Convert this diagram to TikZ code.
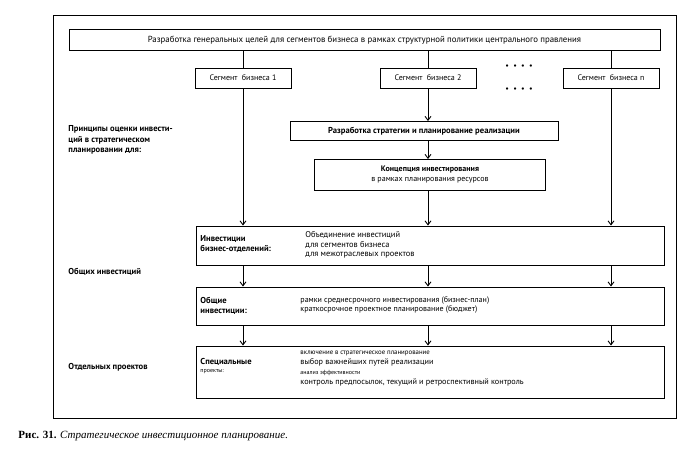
\documentclass[tikz,border=0pt]{standalone}
\usepackage{fontspec}
\setmainfont{PT Sans}
\newfontfamily\capfont{Liberation Serif}
\usetikzlibrary{arrows.meta, positioning}

\begin{document}
\begin{tikzpicture}[x=1pt,y=-1pt,>={Straight Barb[length=4pt,width=6pt]},line width=0.9pt]
    \tikzstyle{box}=[draw, rectangle, inner sep=2pt, font=\fontsize{8}{9}\selectfont]
    \tikzstyle{seg box}=[box, minimum width=96pt, minimum height=20pt]
    \tikzstyle{wide box}=[box, minimum width=468pt]
    \tikzstyle{note}=[align=left, anchor=west, inner sep=0pt, font=\fontsize{8}{9.4}\selectfont]
    \tikzstyle{head}=[note, font=\fontsize{8.6}{10.4}\selectfont\bfseries]
    \tikzstyle{arr}=[->]

    \useasboundingbox (0,0) rectangle (680,451);
    \draw (53,15) rectangle (676,418);

    \node[box, minimum width=591pt, minimum height=21pt, font=\fontsize{8.8}{10}\selectfont] (top) at (364.5,40)
        {Разработка генеральных целей для сегментов бизнеса в рамках структурной политики центрального правления};

    \node[seg box] (seg1) at (243,78) {Сегмент\ \ бизнеса 1};
    \node[seg box] (seg2) at (428,78) {Сегмент\ \ бизнеса 2};
    \node[seg box] (segn) at (611,78) {Сегмент\ \ бизнеса n};
    \node[font=\fontsize{8}{9}\selectfont] (dots1) at (519,67) {\textbullet\ \ \textbullet\ \ \textbullet\ \ \textbullet};
    \node[font=\fontsize{8}{9}\selectfont] (dots2) at (519,90) {\textbullet\ \ \textbullet\ \ \textbullet\ \ \textbullet};

    \node[box, minimum width=268pt, minimum height=19pt, font=\fontsize{8.6}{10}\selectfont\bfseries] (strat) at (424,131)
        {Разработка стратегии и планирование реализации};
    \node[box, minimum width=231pt, minimum height=31pt, align=center, font=\fontsize{8}{10}\selectfont] (conc) at (430,175)
        {\textbf{Концепция инвестирования}\\в рамках планирования ресурсов};

    \node[wide box, minimum height=39pt] (box1) at (430,245.5) {};
    \node[wide box, minimum height=38pt] (box2) at (430,306) {};
    \node[wide box, minimum height=52pt] (box3) at (430,372) {};

    % left column
    \node[head] (princ) at (68,140) {Принципы оценки инвести-\\ций в стратегическом\\планировании для:};
    \node[head] (common) at (68,272) {Общих инвестиций};
    \node[head] (single) at (68,367) {Отдельных проектов};

    % texts in the wide boxes
    \node[head] (b1l) at (200,244) {Инвестиции\\бизнес-отделений:};
    \node[note, font=\fontsize{8.4}{9.6}\selectfont] (b1r) at (305,245) {Объединение инвестиций\\для сегментов бизнеса\\для межотраслевых проектов};
    \node[head] (b2l) at (200,306) {Общие\\инвестиции:};
    \node[note] (b2r) at (300,305) {рамки среднесрочного инвестирования (бизнес-план)\\краткосрочное проектное планирование (бюджет)};
    \node[head] (b3l) at (200,366) {Специальные\\[-2pt]{\mdseries\fontsize{6}{6}\selectfont проекты:}};
    \node[note, font=\fontsize{8.2}{10}\selectfont] (b3r) at (300,369)
        {{\fontsize{6.8}{10}\selectfont включение в стратегическое планирование}\\
         выбор важнейших путей реализации\\
         {\fontsize{6}{10}\selectfont анализ эффективности}\\
         контроль предпосылок, текущий и ретроспективный контроль};

    % connectors
    \foreach \s in {seg1,seg2,segn}
        \draw (\s |- top.south) -- (\s.north);
    \draw[arr] (seg1.south) -- (seg1 |- box1.north);
    \draw[arr] (segn.south) -- (segn |- box1.north);
    \draw[arr] (seg2.south) -- (seg2 |- strat.north);
    \draw[arr] (seg2 |- strat.south) -- (seg2 |- conc.north);
    \draw[arr] (seg2 |- conc.south) -- (seg2 |- box1.north);
    \foreach \s in {seg1,seg2,segn} {
        \draw[arr] (\s |- box1.south) -- (\s |- box2.north);
        \draw[arr] (\s |- box2.south) -- (\s |- box3.north);
    }

    \node[anchor=west, inner sep=0pt, font=\capfont\fontsize{11}{12}\selectfont] (cap) at (18,436)
        {\textbf{Рис. 31.} \textit{Стратегическое инвестиционное планирование.}};
\end{tikzpicture}
\end{document}
